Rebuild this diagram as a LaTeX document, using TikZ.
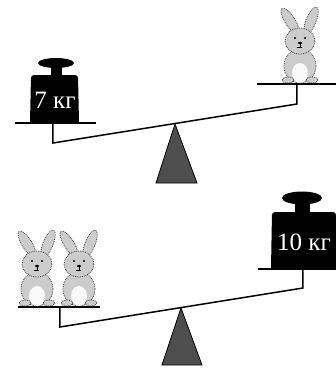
\documentclass[tikz,border=0pt]{standalone}
\usepackage{fontspec}
\setmainfont{Liberation Serif}
\usetikzlibrary{calc}
\definecolor{PivotGrey}{RGB}{78,78,78}
\definecolor{FurGrey}{RGB}{204,204,204}
\definecolor{FurLine}{RGB}{60,60,60}
\tikzset{
  scale beam/.style={draw=black, line width=1.5pt, line join=miter},
  scale pan/.style={draw=black, line width=2pt},
  scale pivot/.style={draw=black, line width=0.8pt, fill=PivotGrey},
  weight part/.style={fill=black},
  weight label/.style={text=white, font=\fontsize{25}{25}\selectfont, inner sep=0pt},
  bunny fur/.style={fill=FurGrey, draw=FurLine, line width=0.8pt, densely dotted},
  bunny belly/.style={fill=white!95!gray, draw=none},
  % sitting rabbit, origin at the middle of its feet
  bunny/.pic={
    \path[bunny fur, rotate around={32:(-10,-62)}] (-10,-62) ellipse [x radius=5, y radius=15];
    \path[bunny fur, rotate around={-22:(11,-62)}] (11,-62) ellipse [x radius=5, y radius=15];
    \path[bunny fur] (0,-17) ellipse [x radius=16, y radius=17];
    \path[bunny belly] (0,-10) ellipse [x radius=8, y radius=10];
    \path[bunny fur] (0,-42) ellipse [x radius=15, y radius=13];
    \path[bunny fur] (-12,-3) ellipse [x radius=6, y radius=3];
    \path[bunny fur] (12,-3) ellipse [x radius=6, y radius=3];
    \fill[black] (-5,-45) circle [radius=1.1] (5,-45) circle [radius=1.1];
    \fill[black] (0,-40) ellipse [x radius=2, y radius=1.2];
    \draw[black, line width=0.7pt] (0,-40)--(0,-36) (-2.5,-36)--(2.5,-36);
  }
}

\begin{document}
\begin{tikzpicture}[x=1pt, y=-1pt]
\useasboundingbox (0,0) rectangle (336,368);

% upper scale: 7 kg against one rabbit
\coordinate (panTL) at (53,123);
\coordinate (endTL) at (53,143);
\coordinate (endTR) at (297,104);
\coordinate (panTR) at (297,84);
\coordinate (pivotT) at (175,124);
\path[scale pivot] (pivotT) -- (156,183) -- (197,183) -- cycle;
\draw[scale beam] (panTL) -- (endTL) -- (endTR) -- (panTR);
\draw[scale pan] (15,123) -- (96,123);
\draw[scale pan] (257,84) -- (336,84);
\fill[weight part] (30,123) [rounded corners=3pt] -- (31,75) -- (78,75) [sharp corners] -- (79,123) -- cycle;
\fill[weight part] (51,65) rectangle (62,76);
\fill[weight part] (56,63) ellipse [x radius=18, y radius=5];
\node[weight label] (wTop) at (55,100) {7 кг};
\pic at (300,83) {bunny};

% lower scale: two rabbits against 10 kg
\coordinate (panBL) at (60,307);
\coordinate (endBL) at (60,327);
\coordinate (endBR) at (303,288);
\coordinate (panBR) at (303,269);
\coordinate (pivotB) at (181,308);
\path[scale pivot] (pivotB) -- (162,365) -- (202,365) -- cycle;
\draw[scale beam] (panBL) -- (endBL) -- (endBR) -- (panBR);
\draw[scale pan] (18,307) -- (100,307);
\draw[scale pan] (258,269) -- (336,269);
\fill[weight part] (271,269) [rounded corners=3pt] -- (272,212) -- (336,212) [sharp corners] -- (336,269) -- cycle;
\fill[weight part] (295,200) rectangle (310,213);
\fill[weight part] (302,198) ellipse [x radius=20, y radius=6.5];
\node[weight label, anchor=west] (wBottom) at (277,242) {10 кг};
\pic at (37,306) {bunny};
\pic at (79,306) {bunny};
\end{tikzpicture}
\end{document}
